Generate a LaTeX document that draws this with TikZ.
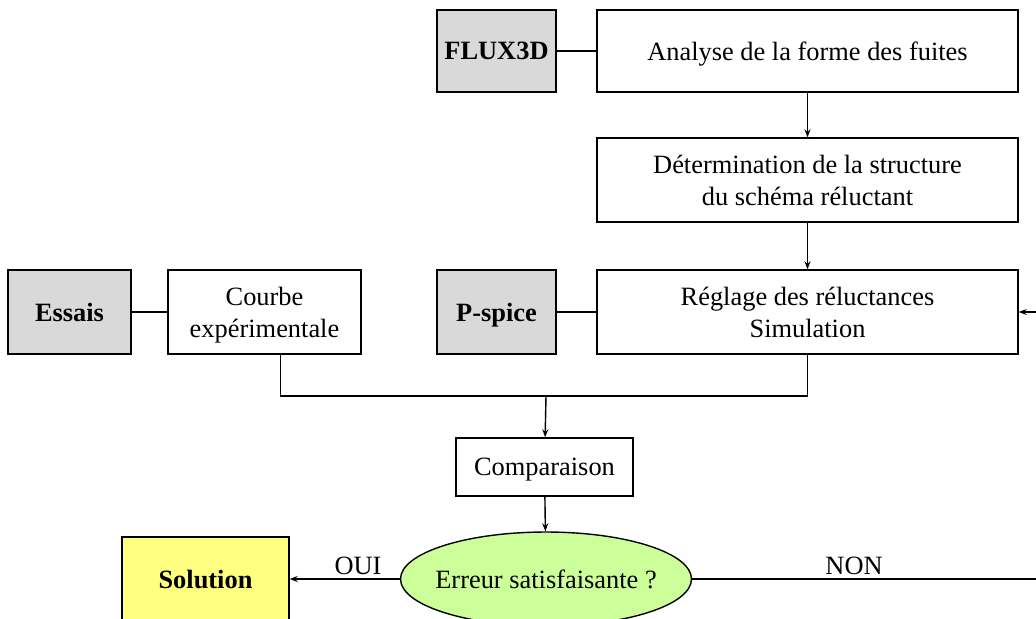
\documentclass[tikz,border=0pt]{standalone}
\usepackage{fontspec}
\setmainfont{Liberation Serif}
\usetikzlibrary{shapes.geometric,arrows.meta}

\definecolor{toolgray}{RGB}{217,217,217}
\definecolor{solyellow}{RGB}{255,255,128}
\definecolor{testgreen}{RGB}{204,255,153}

\begin{document}
\begin{tikzpicture}[
    x=0.5pt, % one unit = one pixel of the reference
    y=-0.5pt,
    every node/.style={font=\fontsize{13.2}{16}\selectfont, align=center, inner sep=0pt, text depth=0pt},
    stepbox/.style={draw, line width=0.7pt, fill=white},
    toolbox/.style={draw, line width=0.7pt, fill=toolgray, font=\fontsize{13.2}{16}\selectfont\bfseries},
    link/.style={line width=0.7pt},
    flow/.style={line width=0.7pt, -{Stealth[length=4pt,width=3pt]}}
    ]

\useasboundingbox (0,0) rectangle (1036,618);

% --- Tool boxes (grey) ---
\node[toolbox, minimum width=59.5pt, minimum height=41pt] (flux) at (496.5,51) {FLUX3D};
\node[toolbox, minimum width=59.5pt, minimum height=42pt] (pspice) at (496.5,312) {P-spice};
\node[toolbox, minimum width=61.5pt, minimum height=42pt] (essais) at (69.5,312) {Essais};

% --- Main steps ---
\node[stepbox, minimum width=210.5pt, minimum height=41pt] (analyse) at (807.5,51) {Analyse de la forme des fuites};
\node[stepbox, minimum width=210.5pt, minimum height=42pt] (determ) at (807.5,180) {Détermination de la structure\\du schéma réluctant};
\node[stepbox, minimum width=210.5pt, minimum height=42pt] (reglage) at (807.5,312) {Réglage des réluctances\\Simulation};
\node[stepbox, minimum width=96.5pt, minimum height=42pt] (courbe) at (264.5,312) {Courbe\\expérimentale};
\node[stepbox, minimum width=88.5pt, minimum height=29pt] (comp) at (544.5,467) {Comparaison};

% --- Decision and result ---
\node[ellipse, draw, line width=0.7pt, fill=testgreen, inner xsep=-4.3pt, minimum width=145.5pt, minimum height=47pt] (erreur) at (546,579) {Erreur satisfaisante ?};
\node[draw, line width=0.7pt, fill=solyellow, minimum width=83.5pt, minimum height=42pt, font=\fontsize{13.2}{16}\selectfont\bfseries] (solution) at (205.5,579) {Solution};

% --- Connections ---
\draw[link] (flux) -- (analyse);
\draw[link] (pspice) -- (reglage);
\draw[link] (essais) -- (courbe);
\draw[flow] (analyse) -- (determ);
\draw[flow] (determ) -- (reglage);

\coordinate (join) at (546,396);
\draw[link] ([xshift=8pt]courbe.south) |- (join) -| (reglage.south);
\draw[flow] (join) -- (comp);
\draw[flow] (comp) -- (erreur);

\draw[flow] (erreur) -- node[above=2pt, pos=0.38] {OUI} (solution);

% the loop runs past the right edge of the page
\coordinate (back) at (1060,579);
\draw[flow] (erreur.east) -- node[above=2pt, pos=0.44] {NON} (back) |- (reglage.east);

\end{tikzpicture}
\end{document}
